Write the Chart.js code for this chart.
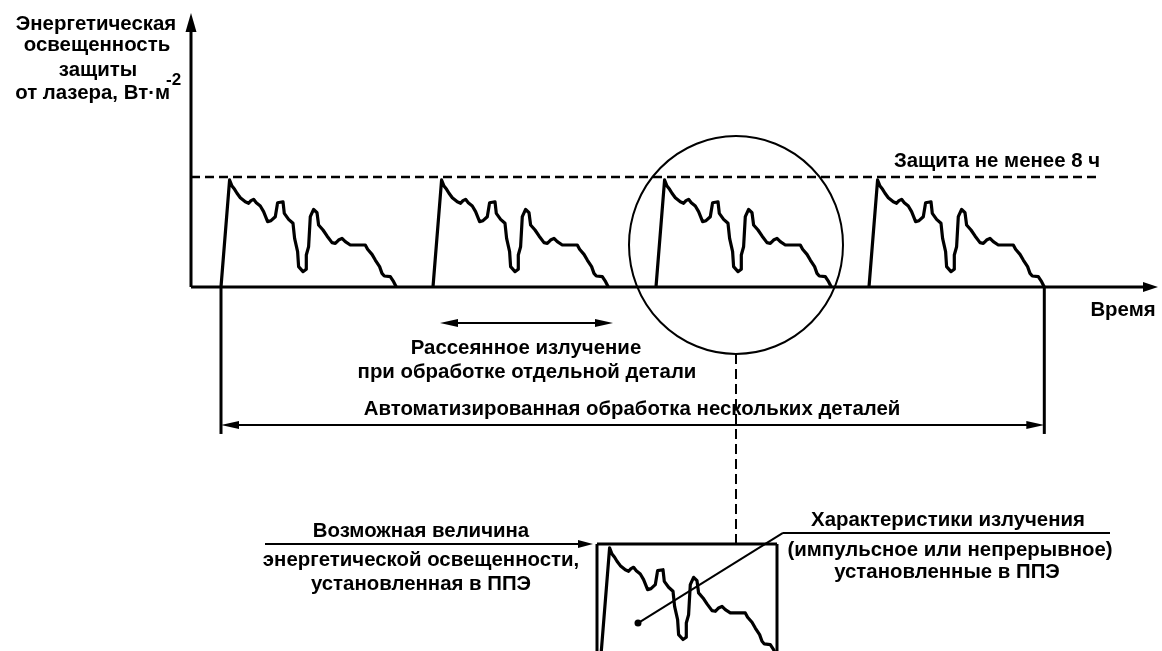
<!DOCTYPE html>
<html>
<head>
<meta charset="utf-8">
<script src="https://cdn.jsdelivr.net/npm/chart.js@4.4.1/dist/chart.umd.min.js"></script>
<style>
  html, body { margin: 0; padding: 0; background: #fff; overflow: hidden; }
  canvas { display: block; }
</style>
</head>
<body>
<canvas id="chart" width="1162" height="651"></canvas>
<script>
// one pulse of scattered radiation: time from pulse start, irradiance (% of protection level)
const pulseT = [0, 0.86, 1.10, 1.36, 1.60, 1.93, 2.43, 2.76, 3.00, 3.26, 3.53, 3.93, 4.26, 4.66, 5.00,
  5.43, 5.66, 6.20, 6.33, 6.76, 7.20, 7.36, 7.66, 7.76, 8.20, 8.53, 8.53, 8.76, 8.93, 9.26, 9.60,
  9.76, 10.20, 10.60, 11.10, 11.43, 11.76, 12.10, 12.43, 12.93, 14.43, 14.66, 15.10, 15.43, 15.86,
  16.10, 16.33, 16.93, 17.26, 17.53];
const pulseE = [0, 97.3, 91.8, 88.8, 85.2, 81.2, 77.5, 76.1, 78.5, 79.7, 76.6, 73.6, 68.5, 59.4, 60.3,
  63.9, 76.6, 77.5, 66.9, 61.5, 57.9, 44.2, 32.1, 18.5, 14.0, 16.1, 29.1, 36.6, 63.9, 70.6, 67.5,
  56.4, 51.8, 46.4, 40.3, 39.7, 42.7, 44.2, 41.2, 38.2, 38.2, 34.3, 29.7, 24.5, 18.5,
  12.4, 10.0, 9.4, 4.8, 0];
// start of each processed part
const pulseStarts = [3.0, 24.2, 46.5, 67.8];
// magnified copy shown below the chart
const insetStart = 41.0;
const insetBase = -334.5;
// protection level (8 h)
const protectionLevel = 100;
const protectionEnd = 90.7;

const yLabel = ['Энергетическая', 'освещенность', 'защиты', 'от лазера, Вт·м'];
const xLabel = 'Время';

const FONT = '"Liberation Sans", Arial, sans-serif';

function pulseData(start, base) {
  return pulseT.map((t, i) => ({ x: start + t, y: base + pulseE[i] }));
}

const datasets = pulseStarts.map(s => ({
  data: pulseData(s, 0),
  showLine: true,
  borderColor: '#000',
  borderWidth: 3.2,
  pointRadius: 0,
  borderJoinStyle: 'round',
  clip: false
}));
datasets.push({
  data: pulseData(insetStart, insetBase),
  showLine: true,
  borderColor: '#000',
  borderWidth: 3.2,
  pointRadius: 0,
  borderJoinStyle: 'round',
  clip: false
});

const pulseEnd = pulseStarts[pulseStarts.length - 1] + pulseT[pulseT.length - 1];

const drawing = {
  id: 'drawing',
  beforeDatasetsDraw(chart) {
    const ctx = chart.ctx;
    const xs = chart.scales.x, ys = chart.scales.y;
    const px = v => xs.getPixelForValue(v);
    const py = v => ys.getPixelForValue(v);

    function line(x1, y1, x2, y2, w, dash) {
      ctx.save();
      ctx.strokeStyle = '#000';
      ctx.lineWidth = w;
      ctx.setLineDash(dash || []);
      ctx.beginPath();
      ctx.moveTo(px(x1), py(y1));
      ctx.lineTo(px(x2), py(y2));
      ctx.stroke();
      ctx.restore();
    }
    // arrow head with the tip at (x, y), pointing along angle a
    function head(x, y, a, len, half) {
      const X = px(x), Y = py(y);
      ctx.save();
      ctx.translate(X, Y);
      ctx.rotate(a);
      ctx.fillStyle = '#000';
      ctx.beginPath();
      ctx.moveTo(0, 0);
      ctx.lineTo(-len, -half);
      ctx.lineTo(-len, half);
      ctx.closePath();
      ctx.fill();
      ctx.restore();
    }
    function text(s, x, y, align, size) {
      ctx.save();
      ctx.fillStyle = '#000';
      ctx.font = 'bold ' + (size || 20.4) + 'px ' + FONT;
      ctx.textAlign = align || 'center';
      ctx.textBaseline = 'middle';
      ctx.fillText(s, px(x), py(y));
      ctx.restore();
    }

    // axes
    line(0, 0, 0, 240, 3);
    head(0, 249.1, -Math.PI / 2, 19, 5.5);
    line(0, 0, 95.5, 0, 3);
    head(96.7, 0, 0, 15, 5);

    // protection level
    line(0, protectionLevel, protectionEnd, protectionLevel, 2.5, [9, 5]);
    text('Защита не менее 8 ч', 90.9, 114.5, 'right');

    // single part arrow
    line(25.9, -32.7, 41.2, -32.7, 2);
    head(24.9, -32.7, Math.PI, 18, 4);
    head(42.2, -32.7, 0, 18, 4);
    text('Рассеянное излучение', 33.5, -55.5);
    text('при обработке отдельной детали', 33.6, -77.3);

    // several parts bracket
    const bl = pulseStarts[0], br = pulseEnd;
    line(bl, 0, bl, -133.6, 3);
    line(br, 0, br, -133.6, 3);
    line(bl + 1, -125.5, br - 1, -125.5, 2);
    head(bl, -125.5, Math.PI, 18, 4);
    head(br, -125.5, 0, 18, 4);
    text('Автоматизированная обработка нескольких деталей', 44.1, -110.9);

    // magnified part
    ctx.save();
    ctx.strokeStyle = '#000';
    ctx.lineWidth = 2;
    ctx.beginPath();
    ctx.ellipse(px(54.5), py(38.2), Math.abs(px(10.7) - px(0)), Math.abs(py(99) - py(0)), 0, 0, Math.PI * 2);
    ctx.stroke();
    ctx.restore();
    line(54.5, -60.9, 54.5, -233.6, 2, [10, 5]);

    // inset frame
    line(40.6, -340, 40.6, -233.6, 3);
    line(40.6, -233.6, 58.6, -233.6, 3);
    line(58.6, -233.6, 58.6, -340, 3);

    // left note
    line(7.4, -233.6, 39, -233.6, 2);
    head(40.2, -233.6, 0, 15, 4);
    text('Возможная величина', 23.0, -221.8);
    text('энергетической освещенности,', 23.0, -248.2);
    text('установленная в ППЭ', 23.0, -270.0);

    // right note
    line(59.2, -223.6, 91.9, -223.6, 2);
    line(59.2, -223.6, 44.7, -305.5, 2);
    ctx.save();
    ctx.fillStyle = '#000';
    ctx.beginPath();
    ctx.arc(px(44.7), py(-305.5), 3.5, 0, Math.PI * 2);
    ctx.fill();
    ctx.restore();
    text('Характеристики излучения', 75.7, -211.8);
    text('(импульсное или непрерывное)', 75.9, -239.1);
    text('установленные в ППЭ', 75.6, -259.5);

    // axis titles
    text(yLabel[0], -9.5, 239.1);
    text(yLabel[1], -9.4, 220.0);
    text(yLabel[2], -9.3, 197.3);
    text(yLabel[3], -2.1, 176.4, 'right');
    text('-2', -2.5, 188.2, 'left', 17);
    text(xLabel, 93.2, -20.9);
  }
};

new Chart(document.getElementById('chart'), {
  type: 'scatter',
  data: { datasets },
  options: {
    responsive: false,
    devicePixelRatio: 1,
    animation: false,
    layout: { padding: 0 },
    plugins: { legend: { display: false }, tooltip: { enabled: false } },
    events: [],
    scales: {
      x: { type: 'linear', display: false, min: -19.1, max: 97.1 },
      y: { type: 'linear', display: false, min: -330.9, max: 260.9 }
    }
  },
  plugins: [drawing]
});
</script>
</body>
</html>
